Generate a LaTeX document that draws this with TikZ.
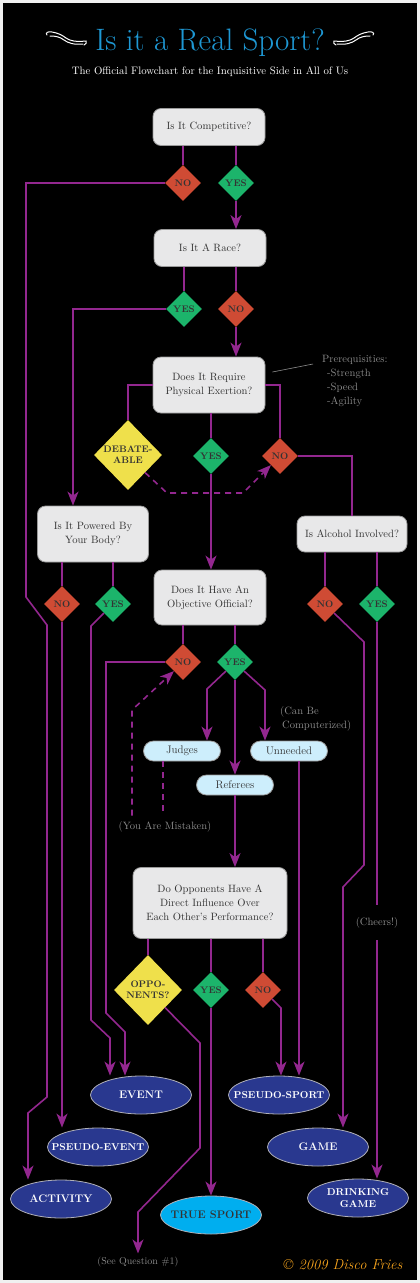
\documentclass[tikz,border=0pt]{standalone}
\usetikzlibrary{shapes.geometric,shapes.misc,arrows.meta}

\definecolor{flowpurple}{HTML}{93278F}
\definecolor{nored}{HTML}{CF4B34}
\definecolor{yesgreen}{HTML}{1CB46B}
\definecolor{debyellow}{HTML}{EFE04B}
\definecolor{boxgray}{HTML}{E8E8E9}
\definecolor{boxedge}{HTML}{9A9A9A}
\definecolor{pillblue}{HTML}{CDEEFC}
\definecolor{endnavy}{HTML}{29388F}
\definecolor{endedge}{HTML}{B0B0B8}
\definecolor{truecyan}{HTML}{00AEEF}
\definecolor{titleblue}{HTML}{1E98D4}
\definecolor{copyorange}{HTML}{F7A41D}
\definecolor{darktext}{HTML}{333333}
\definecolor{notegray}{HTML}{8C8C8C}

% text of an end node, so that the ellipse keeps its own size
\newcommand\lbl[1]{\makebox[0pt]{#1}}

\begin{document}
\begin{tikzpicture}[x=1pt, y=-1pt,
    flow/.style={draw=flowpurple, line width=1.6pt},
    tip/.style={-{Stealth[length=14pt, width=11pt, inset=4pt]}},
    dashflow/.style={flow, dash pattern=on 6pt off 5pt},
    qbox/.style={rectangle, rounded corners=8pt, fill=boxgray, draw=boxedge, line width=0.8pt,
        align=center, text=darktext, font=\fontsize{10.6}{14}\selectfont, minimum width=112pt, inner sep=0pt},
    nobox/.style={diamond, fill=nored, minimum width=36pt, minimum height=36pt, inner sep=0pt,
        text=darktext, font=\fontsize{9.5}{11}\selectfont\bfseries},
    yesbox/.style={nobox, fill=yesgreen},
    maybebox/.style={nobox, fill=debyellow, minimum width=68pt, minimum height=70pt, align=center},
    pill/.style={rounded rectangle, fill=pillblue, draw=boxedge, line width=0.8pt, minimum width=77pt,
        minimum height=20pt, inner sep=0pt, text=darktext, font=\fontsize{11}{12}\selectfont},
    endnode/.style={ellipse, fill=endnavy, draw=endedge, line width=0.8pt, minimum width=101pt,
        minimum height=38pt, inner sep=0pt, text=white, align=center, font=\fontsize{11}{12.5}\selectfont\bfseries},
    longend/.style={endnode, font=\fontsize{10}{12}\selectfont\bfseries},
    note/.style={text=notegray, font=\fontsize{10.6}{14}\selectfont},
    flourish/.style={white, line width=1pt, line cap=round},
]
\useasboundingbox (0,0) rectangle (420,1283);
\fill[gray!12] (0,0) rectangle (420,1283);
\fill[black] (3,3) rectangle (417,1280);

% title
\node[anchor=base, text=titleblue, font=\fontsize{31}{32}\selectfont] (title) at (210,50) {Is it a Real Sport?};
\node[anchor=base, text=white, font=\fontsize{10.8}{12}\selectfont] (subtitle) at (210,74)
    {The Official Flowchart for the Inquisitive Side in All of Us};
\foreach \flip in {1,-1} {
  \begin{scope}[xshift={210pt-\flip*210pt}, xscale=\flip]
    \draw[flourish] (47,35) .. controls (45,33) and (48,31) .. (52,32)
        .. controls (58,33) and (62,35) .. (66,38) .. controls (70,41) and (76,42) .. (86,41)
        .. controls (87,42) and (86,45) .. (84,45);
    \draw[flourish] (50,36) .. controls (56,36) and (60,37) .. (64,40)
        .. controls (68,43) and (74,45) .. (83,44);
  \end{scope}
}

% questions
\node[qbox, minimum height=37pt] (comp) at (209,127) {Is It Competitive?};
\node[qbox, minimum height=37pt] (race) at (210,248) {Is It A Race?};
\node[qbox, minimum height=56pt] (exert) at (209,385) {Does It Require\\Physical Exertion?};
\node[qbox, minimum height=56pt, minimum width=111pt] (powered) at (93,534) {Is It Powered By\\Your Body?};
\node[qbox, minimum height=36pt, minimum width=110pt] (alcohol) at (352,534) {Is Alcohol Involved?};
\node[qbox, minimum height=55pt] (objective) at (210,597.5) {Does It Have An\\Objective Official?};
\node[qbox, minimum height=71pt, minimum width=154pt] (opponents) at (210,903)
    {Do Opponents Have A\\Direct Influence Over\\Each Other’s Performance?};

% answers
\node[nobox] (compno) at (183,183) {NO};
\node[yesbox] (compyes) at (236,183) {YES};
\node[yesbox] (raceyes) at (184,309) {YES};
\node[nobox] (raceno) at (236,309) {NO};
\node[maybebox] (debate) at (128,455) {DEBATE-\\ABLE};
\node[yesbox] (exyes) at (211,456) {YES};
\node[nobox] (exno) at (280,456) {NO};
\node[nobox] (powno) at (62,604) {NO};
\node[yesbox] (powyes) at (113,604) {YES};
\node[nobox] (alcno) at (325,604) {NO};
\node[yesbox] (alcyes) at (377,604) {YES};
\node[nobox] (objno) at (183,662) {NO};
\node[yesbox] (objyes) at (235,662) {YES};
\node[maybebox] (opp) at (148,990) {OPPO-\\NENTS?};
\node[yesbox] (oppyes) at (211,990) {YES};
\node[nobox] (oppno) at (263,990) {NO};

% officials
\node[pill] (judges) at (182,751) {Judges};
\node[pill] (unneeded) at (289,751) {Unneeded};
\node[pill] (referees) at (235,785) {Referees};

% results
\node[endnode] (event) at (141,1095) {\lbl{EVENT}};
\node[longend] (pseudoevent) at (98,1147) {\lbl{PSEUDO-EVENT}};
\node[endnode] (activity) at (61,1199) {\lbl{ACTIVITY}};
\node[endnode, fill=truecyan, text=darktext] (truesport) at (211,1215) {\lbl{TRUE SPORT}};
\node[longend] (pseudosport) at (279,1095) {\lbl{PSEUDO-SPORT}};
\node[endnode] (game) at (318,1147) {\lbl{GAME}};
\node[longend] (drinking) at (358,1198) {\lbl{DRINKING}\\\lbl{GAME}};

% side notes
\node[note, align=left, anchor=north west, inner sep=0pt] (prereq) at (322,355)
    {Prerequisities:\\\hspace*{5pt}-Strength\\\hspace*{5pt}-Speed\\\hspace*{5pt}-Agility};
\node[note, align=left, anchor=north west, inner sep=0pt] (computer) at (280,706) {(Can Be\\\hspace*{2pt}Computerized)};
\node[note, inner ysep=6pt] (mistaken) at (165,827) {(You Are Mistaken)};
\node[note, minimum height=35pt] (cheers) at (377,922.5) {(Cheers!)};
\node[note, font=\fontsize{10}{12}\selectfont] (seeq) at (138,1262) {(See Question \#1)};

\node[anchor=base, text=copyorange, font=\fontsize{14.5}{15}\selectfont\itshape] (credit) at (343,1269)
    {\textcopyright{} 2009 Disco Fries};

% connectors
\draw[notegray, line width=0.6pt] ([shift={(7pt,13pt)}]exert.east) -- ([shift={(-9pt,-9pt)}]prereq.north west);

\draw[flow] (comp.south -| compno) -- (compno.north);
\draw[flow] (comp.south -| compyes) -- (compyes.north);
\draw[flow,tip] (compyes.south) -- (compyes |- race.north);
\draw[flow,tip] (compno.west) -| (26,597) -- (47,625) -- (47,1097) -- (28,1113) -- (activity.north -| 28,0);

\draw[flow] (race.south -| raceyes) -- (raceyes.north);
\draw[flow] (race.south -| raceno) -- (raceno.north);
\draw[flow,tip] (raceyes.west) -| ([xshift=-20pt]powered.north);
\draw[flow,tip] (raceno.south) -- (raceno |- exert.north);

\draw[flow] (exert.west) -| (debate.north);
\draw[flow] (exert.east) -| (exno.north);
\draw[flow] (exert.south -| exyes) -- (exyes.north);
\draw[flow,tip] (exyes.south) -- (exyes |- objective.north);
\draw[flow] (exno.east) -| (alcohol.north);
\draw[dashflow,tip] (debate.south east) -- (167,493) -- (243,493) -- (exno.south west);

\draw[flow] (powered.south -| powno) -- (powno.north);
\draw[flow] (powered.south -| powyes) -- (powyes.north);
\draw[flow,tip] (powno.south) -- (powno |- pseudoevent.north);
\draw[flow,tip] (powyes.south west) -- (91,626) -- (91,1020) -- (110,1038) -- (event.north -| 110,0);

\draw[flow] (alcohol.south -| alcno) -- (alcno.north);
\draw[flow] (alcohol.south -| alcyes) -- (alcyes.north);
\draw[flow,tip] (alcno.south east) -- (364,642) -- (364,865) -- (343,887) -- (game.north -| 343,0);
\draw[flow] (alcyes.south) -- (cheers.north);
\draw[flow,tip] (cheers.south) -- (cheers |- drinking.north);

\draw[flow] (objective.south -| objno) -- (objno.north);
\draw[flow] (objective.south -| objyes) -- (objyes.north);
\draw[flow,tip] (objno.west) -| (106,1013) -- (125,1032) -- (event.north -| 125,0);
\draw[flow,tip] (objyes.south west) -- (207,689) -- ([xshift=25pt]judges.north);
\draw[flow,tip] (objyes.south) -- (referees.north);
\draw[flow,tip] (objyes.south east) -- (265,690) -- ([xshift=-24pt]unneeded.north);
\draw[dashflow] ([xshift=-19pt]judges.south) -- ([xshift=-19pt]judges.south |- mistaken.north);
\draw[dashflow,tip] (mistaken.north -| 132,0) -- (132,710) -- (objno.south west);
\draw[flow,tip] ([xshift=10pt]unneeded.south) -- ([xshift=10pt]unneeded.south |- pseudosport.north);
\draw[flow,tip] (referees.south) -- (opponents.north -| referees);

\draw[flow] (opponents.south -| opp) -- (opp.north);
\draw[flow] (opponents.south -| oppyes) -- (oppyes.north);
\draw[flow] (opponents.south -| oppno) -- (oppno.north);
\draw[flow,tip] (oppyes.south) -- (truesport.north);
\draw[flow,tip] (oppno.south east) -- (281,1008) -- (pseudosport.north -| 281,0);
\draw[flow,tip] (opp.south east) -- (200,1043) -- (200,1148) -- (138,1212) -- (seeq.north);

\end{tikzpicture}
\end{document}
